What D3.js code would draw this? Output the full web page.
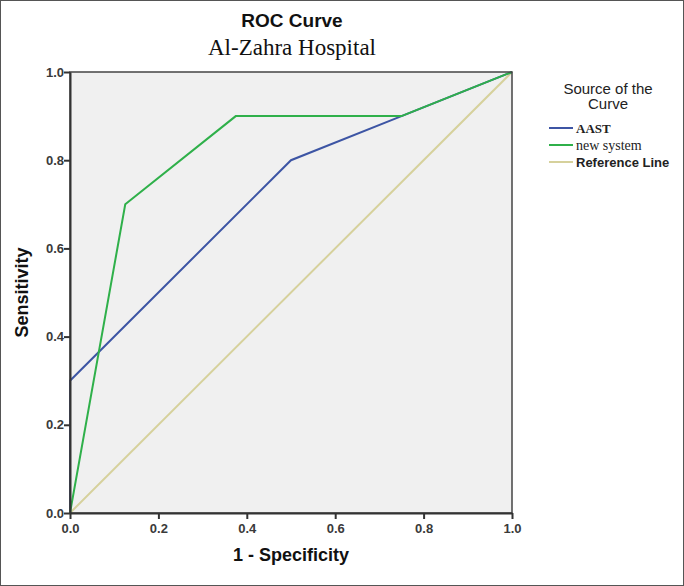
<!DOCTYPE html>
<html>
<head>
<meta charset="utf-8">
<script src="https://cdn.jsdelivr.net/npm/d3@7"></script>
<style>
  body { margin: 0; background: #fff; }
  svg { display: block; }
</style>
</head>
<body>
<div id="chart"></div>
<script>
// ROC points
const aastFpr = [0, 0, 0.5, 0.75, 1];
const aastTpr = [0, 0.3, 0.8, 0.9, 1];
const newFpr = [0, 0.125, 0.375, 0.75, 1];
const newTpr = [0, 0.7, 0.9, 0.9, 1];
const refFpr = [0, 1];
const refTpr = [0, 1];
const tickValues = [0, 0.2, 0.4, 0.6, 0.8, 1.0];
const seriesNames = ["AAST", "new system", "Reference Line"];

let width = 684, height = 586;
let margin = {top: 72, right: 172, bottom: 73, left: 70};
let innerWidth = width - margin.left - margin.right;
let innerHeight = height - margin.top - margin.bottom;

let svg = d3.select("#chart").append("svg")
    .attr("width", width)
    .attr("height", height);

// outer frame
svg.append("rect")
    .attr("x", 0.5).attr("y", 0.5)
    .attr("width", width - 1).attr("height", height - 1)
    .attr("fill", "#fff")
    .attr("stroke", "#555");

let g = svg.append("g")
    .attr("transform", "translate(" + margin.left + "," + margin.top + ")");

let xScale = d3.scaleLinear().domain([0, 1]).range([0, innerWidth]);
let yScale = d3.scaleLinear().domain([0, 1]).range([innerHeight, 0]);

g.append("rect")
    .attr("width", innerWidth)
    .attr("height", innerHeight)
    .attr("fill", "#f0f0f0");

let line = d3.line().x(d => xScale(d[0])).y(d => yScale(d[1]));

let series = [
    {name: seriesNames[2], pts: d3.zip(refFpr, refTpr), color: "#d6d19c"},
    {name: seriesNames[0], pts: d3.zip(aastFpr, aastTpr), color: "#3d55a4"},
    {name: seriesNames[1], pts: d3.zip(newFpr, newTpr), color: "#2fb04a"}
];

g.selectAll("path.curve")
    .data(series)
    .join("path")
    .attr("class", "curve")
    .attr("fill", "none")
    .attr("stroke", d => d.color)
    .attr("stroke-width", 2)
    .attr("d", d => line(d.pts));

// frame of plot
g.append("rect")
    .attr("width", innerWidth)
    .attr("height", innerHeight)
    .attr("fill", "none")
    .attr("stroke", "#444")
    .attr("stroke-width", 1.5);

let xAxis = d3.axisBottom(xScale).tickValues(tickValues).tickFormat(d3.format(".1f")).tickSize(6).tickSizeOuter(0);
let yAxis = d3.axisLeft(yScale).tickValues(tickValues).tickFormat(d3.format(".1f")).tickSize(6).tickSizeOuter(0);

g.append("g").attr("class", "x-axis axis")
    .attr("transform", "translate(0," + innerHeight + ")")
    .call(xAxis);
g.append("g").attr("class", "y-axis axis")
    .call(yAxis);

svg.selectAll(".axis path").attr("stroke", "#333").attr("stroke-width", 2);
svg.selectAll(".axis line").attr("stroke", "#333").attr("stroke-width", 2);
svg.selectAll(".axis text")
    .attr("font-family", "Liberation Sans, Arial, sans-serif")
    .attr("font-size", 13)
    .attr("font-weight", "bold")
    .attr("fill", "#3a3a3a");
g.select(".x-axis").selectAll("text").attr("dy", "0.85em");
g.select(".y-axis").selectAll("text").attr("x", -6);

// titles
svg.append("text")
    .attr("x", 292).attr("y", 27)
    .attr("text-anchor", "middle")
    .attr("font-family", "Liberation Sans, Arial, sans-serif")
    .attr("font-weight", "bold")
    .attr("font-size", 19)
    .attr("fill", "#111")
    .text("ROC Curve");
svg.append("text")
    .attr("x", 292).attr("y", 55)
    .attr("text-anchor", "middle")
    .attr("font-family", "Liberation Serif, Times New Roman, serif")
    .attr("font-size", 23)
    .attr("fill", "#111")
    .text("Al-Zahra Hospital");

svg.append("text")
    .attr("x", margin.left + innerWidth / 2).attr("y", 561)
    .attr("text-anchor", "middle")
    .attr("font-family", "Liberation Sans, Arial, sans-serif")
    .attr("font-weight", "bold")
    .attr("font-size", 18)
    .attr("fill", "#111")
    .text("1 - Specificity");
svg.append("text")
    .attr("transform", "translate(28," + (margin.top + innerHeight / 2) + ") rotate(-90)")
    .attr("text-anchor", "middle")
    .attr("font-family", "Liberation Sans, Arial, sans-serif")
    .attr("font-weight", "bold")
    .attr("font-size", 18)
    .attr("fill", "#111")
    .text("Sensitivity");

// legend
let legend = svg.append("g");
legend.selectAll("text.head")
    .data(["Source of the", "Curve"])
    .join("text")
    .attr("class", "head")
    .attr("x", 608).attr("y", (d, i) => 94 + i * 15)
    .attr("text-anchor", "middle")
    .attr("font-family", "Liberation Sans, Arial, sans-serif")
    .attr("font-size", 15)
    .attr("fill", "#222")
    .text(d => d);

let legendItems = [
    {name: seriesNames[0], color: "#3d55a4", font: "Liberation Serif, serif", size: 13, weight: "bold"},
    {name: seriesNames[1], color: "#2fb04a", font: "Liberation Serif, serif", size: 14, weight: "normal"},
    {name: seriesNames[2], color: "#d6d19c", font: "Liberation Sans, Arial, sans-serif", size: 13, weight: "bold"}
];
let li = legend.selectAll("g.item")
    .data(legendItems)
    .join("g")
    .attr("class", "item")
    .attr("transform", (d, i) => "translate(549," + (128 + i * 17) + ")");
li.append("line")
    .attr("x1", 0).attr("x2", 24)
    .attr("stroke", d => d.color)
    .attr("stroke-width", 2);
li.append("text")
    .attr("x", 27).attr("dy", "0.35em")
    .attr("font-family", d => d.font)
    .attr("font-size", d => d.size)
    .attr("font-weight", d => d.weight)
    .attr("fill", "#222")
    .text(d => d.name);
</script>
</body>
</html>
